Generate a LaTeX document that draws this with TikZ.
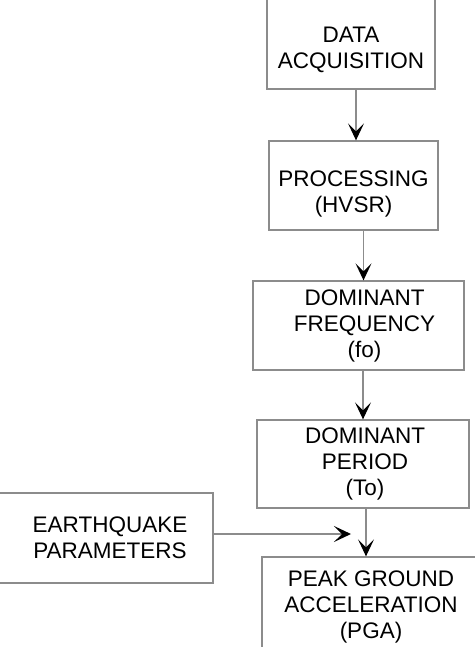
\documentclass[tikz,border=0pt]{standalone}
\usepackage{fontspec}
\setmainfont{Liberation Sans}
\usetikzlibrary{arrows.meta}

\definecolor{linegray}{RGB}{140,140,140}

\tikzstyle{block} = [draw=linegray, line width=1.3pt, align=center, inner sep=0pt,
    font=\fontsize{22.5}{26}\selectfont]
\tikzstyle{flow} = [draw=linegray, line width=1.3pt,
    -{Stealth[black, length=17pt, width=16pt, inset=8pt]}]

\begin{document}
\begin{tikzpicture}[x=1pt, y=-1pt]
\useasboundingbox (0,0) rectangle (474,647);

\node[block, minimum width=168pt, minimum height=90pt] (acq) at (351,44)
    {\rule{0pt}{28pt}DATA\\ACQUISITION};
\node[block, minimum width=169pt, minimum height=89pt] (proc) at (353.5,185.5)
    {\rule{0pt}{32pt}PROCESSING\\(HVSR)};
\node[block, minimum width=211pt, minimum height=89pt] (freq) at (358.5,325.5)
    {\hspace*{12pt}DOMINANT\\\hspace*{12pt}FREQUENCY\\\hspace*{12pt}(fo)};
\node[block, minimum width=212pt, minimum height=88pt] (period) at (363,464)
    {\hspace*{4pt}DOMINANT\\\hspace*{4pt}PERIOD\\\hspace*{4pt}(To)};
\node[block, minimum width=218pt, minimum height=90pt] (quake) at (104,538)
    {\hspace*{12pt}EARTHQUAKE\\\hspace*{12pt}PARAMETERS};
\node[block, minimum width=218pt, minimum height=93pt] (pga) at (371,603.5)
    {\rule{0pt}{22pt}PEAK GROUND\\ACCELERATION\\(PGA)};

\coordinate (join) at (351,534);

\draw[flow] (acq.south -| 356,0) -- (proc.north -| 356,0);
\draw[flow] (proc.south -| 363.5,0) -- (freq.north -| 363.5,0);
\draw[flow] (freq.south -| 363,0) -- (period.north -| 363,0);
\draw[flow] (period.south -| 366,0) -- (pga.north -| 366,0);
\draw[flow] (quake.east |- join) -- (join);
\end{tikzpicture}
\end{document}
